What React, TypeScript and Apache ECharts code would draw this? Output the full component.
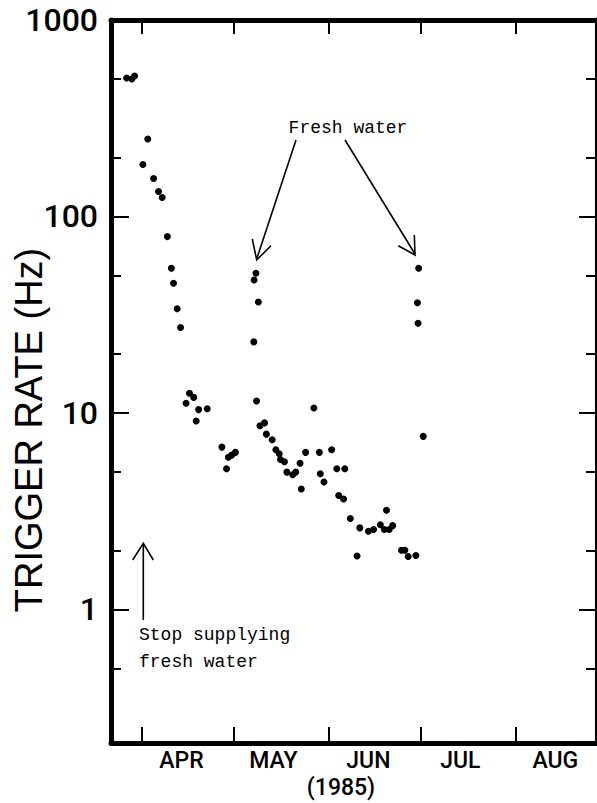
import React, { useEffect, useRef } from "react";
import * as echarts from "echarts";

// Days since 1 April 1985
const days = [
  -4.9, -3.2, -2.3, 0.4, 2.0, 3.9, 5.5, 6.7, 8.4, 9.7, 10.4, 11.6, 12.7, 14.5,
  15.6, 17.0, 17.8, 18.6, 21.4, 26.2, 27.7, 28.3, 29.4, 30.6, 36.6, 36.7, 37.3,
  37.5, 38.1, 38.6, 40.1, 40.7, 42.6, 43.8, 44.9, 45.3, 46.6, 47.4, 49.3, 50.3,
  51.7, 52.1, 53.5, 56.2, 58.0, 58.3, 59.5, 62.0, 63.7, 64.3, 65.9, 66.3, 68.1,
  70.3, 71.2, 74.0, 75.7, 77.9, 79.2, 79.9, 80.8, 81.9, 84.8, 85.9, 87.0, 89.5,
  90.0, 90.2, 90.4, 91.9,
];
// Trigger rate (Hz)
const rates = [
  507, 501, 519, 184, 248, 156, 134, 125, 79, 54.5, 45.7, 33.9, 27.2, 11.2,
  12.6, 12.0, 9.1, 10.4, 10.5, 6.7, 5.2, 5.95, 6.1, 6.3, 23.0, 47.5, 51.4,
  11.5, 36.7, 8.6, 8.9, 7.8, 7.3, 6.5, 6.2, 5.8, 5.65, 5.0, 4.85, 5.0,
  5.55, 4.1, 6.3, 10.6, 6.3, 4.9, 4.45, 6.5, 5.2, 3.8, 3.65, 5.2, 2.9,
  1.87, 2.6, 2.5, 2.55, 2.7, 2.55, 3.2, 2.55, 2.67, 2.0, 2.0, 1.86, 1.88,
  36.4, 28.6, 54.5, 7.6,
];

const monthNames = ["APR", "MAY", "JUN", "JUL", "AUG"];
const monthStarts = [0, 30, 61, 91, 122];
const majorTicks = [1, 10, 100, 1000];
const minorTicks = [0.5, 2, 5, 20, 50, 200, 500];

const X_MIN = -10;
const X_MAX = 148.6;
const Y_MIN = 0.209;
const Y_MAX = 1000;
const LABEL_OFFSET = 13;

const LABEL_FONT = "Roboto, Liberation Sans, Arial, sans-serif";

export default function App() {
  const ref = useRef<HTMLDivElement>(null);

  useEffect(() => {
    if (!ref.current) return;
    const chart = echarts.init(ref.current, null, { renderer: "svg" });

    const labelValues = monthStarts.map((d) => d + LABEL_OFFSET);
    const axisColor = "#000";

    const xBase = {
      type: "value",
      min: X_MIN,
      max: X_MAX,
      splitLine: { show: false },
      axisLine: { show: true, onZero: false, lineStyle: { color: axisColor, width: 5 } },
    };

    const yBase = {
      type: "log",
      logBase: 10,
      min: Y_MIN,
      max: Y_MAX,
      splitLine: { show: false },
      minorTick: { show: false },
    };

    const data = days.map((d, i) => [d, rates[i]]);

    chart.setOption({
      animation: false,
      backgroundColor: "#fff",
      grid: { left: 111, right: -2, top: 20, bottom: 60, containLabel: false },
      xAxis: [
        {
          ...xBase,
          position: "bottom",
          axisTick: {
            show: true,
            inside: true,
            length: 16,
            customValues: monthStarts,
            lineStyle: { color: axisColor, width: 2 },
          },
          axisLabel: {
            show: true,
            customValues: labelValues,
            formatter: (v: number) => {
              const idx = labelValues.findIndex((x) => Math.abs(x - v) < 0.01);
              return idx >= 0 ? monthNames[idx] : "";
            },
            color: "#000",
            fontFamily: LABEL_FONT,
            fontWeight: 500,
            fontSize: 23,
            margin: 6,
          },
        },
        {
          ...xBase,
          position: "top",
          axisTick: {
            show: true,
            inside: true,
            length: 14,
            customValues: monthStarts,
            lineStyle: { color: axisColor, width: 2 },
          },
          axisLabel: { show: false },
        },
      ],
      yAxis: [
        {
          ...yBase,
          position: "left",
          axisLine: { show: true, onZero: false, lineStyle: { color: axisColor, width: 5 } },
          axisTick: {
            show: true,
            inside: true,
            length: 18,
            customValues: majorTicks,
            lineStyle: { color: axisColor, width: 2 },
          },
          axisLabel: {
            show: true,
            customValues: majorTicks,
            formatter: (v: number) => String(Math.round(v)),
            color: "#000",
            fontFamily: LABEL_FONT,
            fontWeight: 500,
            fontSize: 32,
            margin: 13,
          },
        },
        {
          ...yBase,
          position: "left",
          axisLine: { show: false, onZero: false },
          axisTick: {
            show: true,
            inside: true,
            length: 10,
            customValues: minorTicks,
            lineStyle: { color: axisColor, width: 2 },
          },
          axisLabel: { show: false },
        },
        {
          ...yBase,
          position: "right",
          axisLine: { show: true, onZero: false, lineStyle: { color: axisColor, width: 5 } },
          axisTick: {
            show: true,
            inside: true,
            length: 18,
            customValues: majorTicks,
            lineStyle: { color: axisColor, width: 2 },
          },
          axisLabel: { show: false },
        },
        {
          ...yBase,
          position: "right",
          axisLine: { show: false, onZero: false },
          axisTick: {
            show: true,
            inside: true,
            length: 11,
            customValues: minorTicks,
            lineStyle: { color: axisColor, width: 2 },
          },
          axisLabel: { show: false },
        },
      ],
      series: [
        {
          type: "scatter",
          xAxisIndex: 0,
          yAxisIndex: 0,
          data,
          symbol: "circle",
          symbolSize: 7,
          itemStyle: { color: "#000", opacity: 1 },
        },
      ],
      graphic: [
        {
          type: "text",
          x: 29,
          y: 430,
          rotation: Math.PI / 2,
          style: {
            text: "TRIGGER RATE (Hz)",
            fontFamily: "Liberation Sans, Arial, sans-serif",
            fontSize: 38,
            fill: "#000",
            textAlign: "center",
            textVerticalAlign: "middle",
          },
        },
        {
          type: "text",
          x: 341,
          y: 787,
          style: {
            text: "(1985)",
            fontFamily: LABEL_FONT,
            fontWeight: 500,
            fontSize: 23,
            fill: "#000",
            textAlign: "center",
            textVerticalAlign: "middle",
          },
        },
        {
          type: "text",
          x: 348,
          y: 128,
          style: {
            text: "Fresh water",
            fontFamily: "Liberation Mono, Courier New, monospace",
            fontSize: 18,
            fill: "#000",
            textAlign: "center",
            textVerticalAlign: "middle",
          },
        },
        {
          type: "text",
          x: 139,
          y: 635,
          style: {
            text: "Stop supplying",
            fontFamily: "Liberation Mono, Courier New, monospace",
            fontSize: 18,
            fill: "#000",
            textAlign: "left",
            textVerticalAlign: "middle",
          },
        },
        {
          type: "text",
          x: 139,
          y: 662,
          style: {
            text: "fresh water",
            fontFamily: "Liberation Mono, Courier New, monospace",
            fontSize: 18,
            fill: "#000",
            textAlign: "left",
            textVerticalAlign: "middle",
          },
        },
        // Left "Fresh water" arrow
        {
          type: "line",
          shape: { x1: 296, y1: 140, x2: 256.7, y2: 259 },
          style: { stroke: "#000", lineWidth: 1.6 },
        },
        {
          type: "polyline",
          shape: { points: [[252.3, 239], [256.7, 260], [271, 245.7]] },
          style: { stroke: "#000", lineWidth: 1.6, fill: null },
        },
        // Right "Fresh water" arrow
        {
          type: "line",
          shape: { x1: 345, y1: 140, x2: 415, y2: 254 },
          style: { stroke: "#000", lineWidth: 1.6 },
        },
        {
          type: "polyline",
          shape: { points: [[398.3, 245.7], [415, 255], [414.3, 235]] },
          style: { stroke: "#000", lineWidth: 1.6, fill: null },
        },
        // "Stop supplying" arrow
        {
          type: "line",
          shape: { x1: 143.3, y1: 620, x2: 143.3, y2: 544 },
          style: { stroke: "#000", lineWidth: 1.6 },
        },
        {
          type: "polyline",
          shape: { points: [[132.7, 560], [143.3, 543.3], [153.3, 560]] },
          style: { stroke: "#000", lineWidth: 1.6, fill: null },
        },
      ],
    });

    return () => chart.dispose();
  }, []);

  return (
    <div
      ref={ref}
      style={{ position: "fixed", left: 0, top: 0, width: 597, height: 803, background: "#fff" }}
    />
  );
}
